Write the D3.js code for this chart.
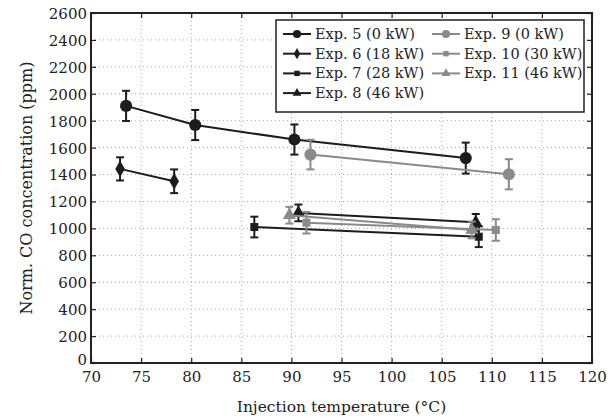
<!DOCTYPE html>
<meta charset="utf-8">
<script src="https://d3js.org/d3.v7.min.js"></script>
<style>
  body { margin: 0; background: #fff; }
  text { font-family: "DejaVu Serif", serif; fill: #222; }
</style>
<body>
  <div id="container"></div>
</body>
<script>
    // series data: [temperature, CO ppm, error]
    var exp5  = [[73.5, 1910, 112], [80.4, 1768, 112], [90.3, 1660, 112], [107.4, 1522, 115]];
    var exp6  = [[72.9, 1442, 86], [78.3, 1350, 88]];
    var exp7  = [[86.3, 1010, 77], [108.7, 938, 77]];
    var exp8  = [[90.7, 1115, 62], [108.4, 1045, 62]];
    var exp9  = [[91.9, 1548, 110], [111.7, 1402, 112]];
    var exp10 = [[91.5, 1042, 80], [110.4, 988, 80]];
    var exp11 = [[89.8, 1098, 62], [108.0, 988, 62]];

    var seriesNames = ["Exp. 5 (0 kW)", "Exp. 6 (18 kW)", "Exp. 7 (28 kW)", "Exp. 8 (46 kW)",
                       "Exp. 9 (0 kW)", "Exp. 10 (30 kW)", "Exp. 11 (46 kW)"];
    var seriesData = [exp5, exp6, exp7, exp8, exp9, exp10, exp11];
    var seriesMarker = ["circle", "diamond", "square", "triangle", "circle", "square", "triangle"];
    var seriesColor = ["#1c1c1c", "#1c1c1c", "#1c1c1c", "#1c1c1c", "#8a8a8a", "#8a8a8a", "#8a8a8a"];

    var xTicks = [70, 75, 80, 85, 90, 95, 100, 105, 110, 115, 120];
    var yTicks = d3.range(0, 2601, 200);

    var margin = {top: 13, right: 24, bottom: 56, left: 91},
        width = 616 - margin.left - margin.right,
        height = 419 - margin.top - margin.bottom;

    var svg = d3.select("#container")
      .append("svg")
      .attr("width", 616)
      .attr("height", 419)
      .append("g")
      .attr("transform", "translate(" + margin.left + "," + margin.top + ")");

    var x = d3.scaleLinear().domain([70, 120]).range([0, width]);
    var y = d3.scaleLinear().domain([0, 2600]).range([height, 0]);

    // dotted grid
    svg.append("g").selectAll("line").data(xTicks.slice(1, -1)).enter().append("line")
      .attr("x1", d => x(d)).attr("x2", d => x(d)).attr("y1", 0).attr("y2", height)
      .attr("stroke", "#aaa").attr("stroke-width", 1).attr("stroke-dasharray", "1,3");
    svg.append("g").selectAll("line").data(yTicks.slice(1, -1)).enter().append("line")
      .attr("x1", 0).attr("x2", width).attr("y1", d => y(d)).attr("y2", d => y(d))
      .attr("stroke", "#aaa").attr("stroke-width", 1).attr("stroke-dasharray", "1,3");

    // axes (ticks inward on all sides)
    function styleAxis(g) {
      g.select(".domain").remove();
      g.selectAll(".tick line").attr("stroke", "#222").attr("stroke-width", 1.2);
      g.selectAll(".tick text").attr("font-size", 15).attr("fill", "#222")
        .attr("font-family", "DejaVu Serif, serif");
    }
    svg.append("g").attr("transform", "translate(0," + height + ")")
      .call(d3.axisBottom(x).tickValues(xTicks).tickSizeInner(-5).tickSizeOuter(0).tickPadding(8))
      .call(styleAxis);
    svg.append("g")
      .call(d3.axisLeft(y).tickValues(yTicks).tickFormat(d3.format("d"))
        .tickSizeInner(-5).tickSizeOuter(0).tickPadding(4))
      .call(styleAxis)
      .selectAll(".tick text").attr("dy", d => d === 0 ? "0.1em" : "0.36em");
    svg.append("g")
      .call(d3.axisTop(x).tickValues(xTicks).tickSizeInner(-5).tickSizeOuter(0).tickFormat(""))
      .call(styleAxis);
    svg.append("g").attr("transform", "translate(" + width + ",0)")
      .call(d3.axisRight(y).tickValues(yTicks).tickSizeInner(-5).tickSizeOuter(0).tickFormat(""))
      .call(styleAxis);

    svg.append("rect").attr("width", width).attr("height", height)
      .attr("fill", "none").attr("stroke", "#222").attr("stroke-width", 2);

    // marker shapes
    var symbolType = {circle: d3.symbolCircle, diamond: d3.symbolDiamond,
                      square: d3.symbolSquare, triangle: d3.symbolTriangle};
    var symbolSize = {circle: 115, diamond: 80, square: 64, triangle: 75};

    var line = d3.line().x(d => x(d[0])).y(d => y(d[1]));

    seriesData.forEach(function (data, i) {
      var col = seriesColor[i];
      var g = svg.append("g");
      g.append("path").datum(data).attr("d", line)
        .attr("fill", "none").attr("stroke", col).attr("stroke-width", 2);
      // error bars
      var eb = g.selectAll(".eb").data(data).enter().append("g");
      eb.append("line")
        .attr("x1", d => x(d[0])).attr("x2", d => x(d[0]))
        .attr("y1", d => y(d[1] - d[2])).attr("y2", d => y(d[1] + d[2]))
        .attr("stroke", col).attr("stroke-width", 2);
      [-1, 1].forEach(function (s) {
        eb.append("line")
          .attr("x1", d => x(d[0]) - 4).attr("x2", d => x(d[0]) + 4)
          .attr("y1", d => y(d[1] + s * d[2])).attr("y2", d => y(d[1] + s * d[2]))
          .attr("stroke", col).attr("stroke-width", 2);
      });
      g.selectAll(".pt").data(data).enter().append("path")
        .attr("d", d3.symbol().type(symbolType[seriesMarker[i]]).size(symbolSize[seriesMarker[i]]))
        .attr("transform", d => "translate(" + x(d[0]) + "," + y(d[1]) + ")")
        .attr("fill", col);
    });

    // legend
    var legend = svg.append("g").attr("transform", "translate(" + (276 - margin.left) + "," + (20 - margin.top) + ")");
    legend.append("rect").attr("width", 308).attr("height", 92)
      .attr("fill", "#fff").attr("stroke", "#222").attr("stroke-width", 1.5);
    seriesNames.forEach(function (name, i) {
      var col = i < 4 ? 0 : 1, row = i < 4 ? i : i - 4;
      var lx = col === 0 ? 7 : 156, ly = 14 + row * 19.7;
      var item = legend.append("g").attr("transform", "translate(" + lx + "," + ly + ")");
      item.append("line").attr("x1", 0).attr("x2", 28).attr("y1", 0).attr("y2", 0)
        .attr("stroke", seriesColor[i]).attr("stroke-width", 2);
      item.append("path")
        .attr("d", d3.symbol().type(symbolType[seriesMarker[i]]).size(symbolSize[seriesMarker[i]] * 0.45))
        .attr("transform", "translate(14,0)").attr("fill", seriesColor[i]);
      item.append("text").attr("x", 32).attr("y", 0).attr("dy", "0.35em")
        .attr("font-size", 14.5).text(name);
    });

    // axis labels
    svg.append("text")
      .attr("text-anchor", "middle")
      .attr("x", width / 2)
      .attr("y", height + 49)
      .attr("font-size", 15.5)
      .text("Injection temperature (°C)");
    svg.append("text")
      .attr("text-anchor", "middle")
      .attr("transform", "rotate(-90)")
      .attr("x", -height / 2)
      .attr("y", -59)
      .attr("font-size", 16)
      .text("Norm. CO concentration (ppm)");
</script>
